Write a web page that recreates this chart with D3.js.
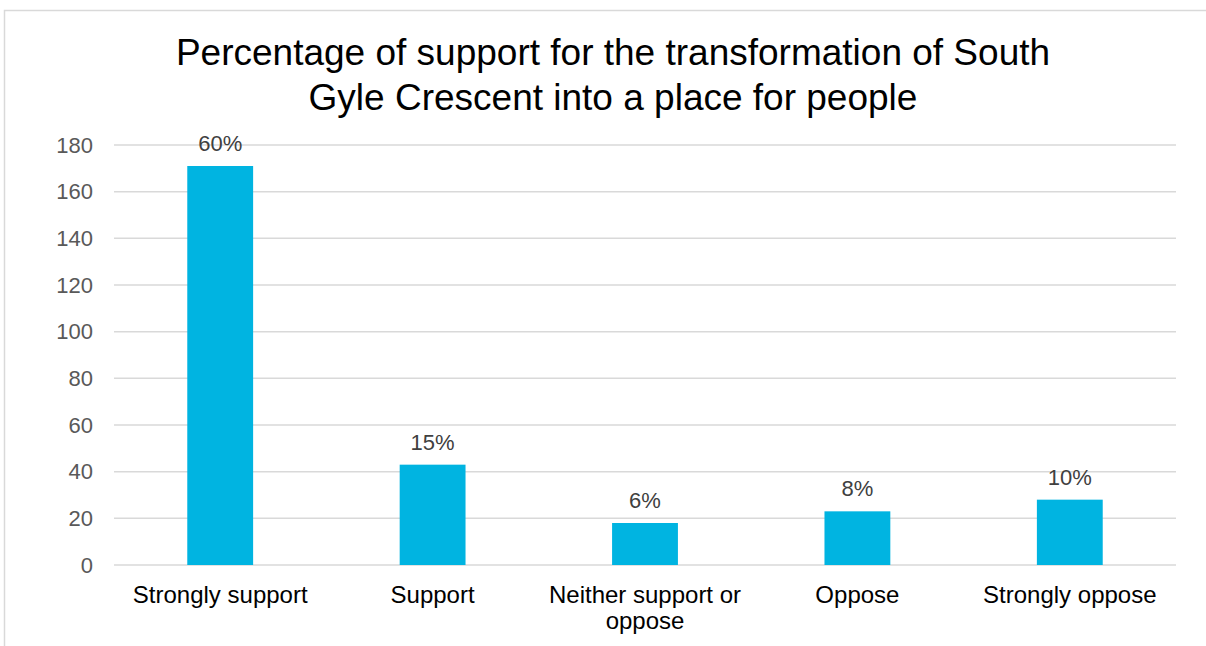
<!DOCTYPE html>
<html>
<head>
<meta charset="utf-8">
<script src="https://cdn.jsdelivr.net/npm/d3@7/dist/d3.min.js"></script>
<style>
  html, body { margin: 0; padding: 0; background: #fff; }
  svg { display: block; font-family: "Liberation Sans", Arial, sans-serif; }
</style>
</head>
<body>
<svg id="chart" width="1206" height="646"></svg>
<script>
const titleLines = ["Percentage of support for the transformation of South", "Gyle Crescent into a place for people"];
const categories = ["Strongly support", "Support", "Neither support or oppose", "Oppose", "Strongly oppose"];
const counts = [171, 43, 18, 23, 28];
const percentLabels = ["60%", "15%", "6%", "8%", "10%"];
const yTicks = [0, 20, 40, 60, 80, 100, 120, 140, 160, 180];

const svg = d3.select("#chart");
const W = 1206, H = 646;
const plot = { left: 114, right: 1176, top: 145, bottom: 565 };

// outer frame
svg.append("path")
  .attr("d", `M4.5,${H} L4.5,10.5 L${W},10.5`)
  .attr("fill", "none").attr("stroke", "#d9d9d9").attr("stroke-width", 1.5);

// title
const title = svg.append("text")
  .attr("text-anchor", "middle")
  .attr("font-size", 37)
  .attr("fill", "#000");
titleLines.forEach((t, i) => {
  title.append("tspan").attr("x", 613).attr("y", 65 + i * 45).text(t);
});

const x = d3.scaleBand().domain(categories).range([plot.left, plot.right]).padding(0);
const y = d3.scaleLinear().domain([0, 180]).range([plot.bottom, plot.top]);
const barW = x.bandwidth() * 0.31;

// gridlines
svg.append("g").selectAll("line").data(yTicks).join("line")
  .attr("x1", plot.left).attr("x2", plot.right)
  .attr("y1", d => y(d)).attr("y2", d => y(d))
  .attr("stroke", "#d9d9d9").attr("stroke-width", 1.5);

// y axis labels
const yAxis = d3.axisLeft(y).tickValues(yTicks).tickSize(0).tickPadding(21);
const yg = svg.append("g").attr("transform", `translate(${plot.left},0)`).call(yAxis);
yg.select(".domain").remove();
yg.selectAll("text").attr("font-size", 22).attr("fill", "#595959")
  .attr("font-family", "'Liberation Sans', Arial, sans-serif");

// bars
svg.append("g").selectAll("rect").data(categories).join("rect")
  .attr("x", (d) => x(d) + (x.bandwidth() - barW) / 2)
  .attr("width", barW)
  .attr("y", (d, i) => y(counts[i]))
  .attr("height", (d, i) => y(0) - y(counts[i]))
  .attr("fill", "#00B4E1");

// data labels
svg.append("g").selectAll("text").data(categories).join("text")
  .attr("x", d => x(d) + x.bandwidth() / 2)
  .attr("y", (d, i) => y(counts[i]) - 15)
  .attr("text-anchor", "middle")
  .attr("font-size", 22)
  .attr("fill", "#404040")
  .text((d, i) => percentLabels[i]);

// category labels (x axis)
const xAxis = d3.axisBottom(x).tickSize(0).tickPadding(0);
const xg = svg.append("g").attr("transform", `translate(0,${plot.bottom})`).call(xAxis);
xg.select(".domain").remove();
xg.selectAll("text")
  .attr("font-size", 24)
  .attr("fill", "#000")
  .attr("font-family", "'Liberation Sans', Arial, sans-serif")
  .attr("dy", null)
  .attr("y", 38)
  .each(function() {
    const el = d3.select(this);
    const words = el.text().split(" ");
    el.text(null);
    const maxW = 200;
    let line = [];
    let tspan = el.append("tspan").attr("x", 0).attr("dy", 0);
    words.forEach(w => {
      line.push(w);
      tspan.text(line.join(" "));
      if (tspan.node().getComputedTextLength() > maxW && line.length > 1) {
        line.pop();
        tspan.text(line.join(" "));
        line = [w];
        tspan = el.append("tspan").attr("x", 0).attr("dy", 26).text(w);
      }
    });
  });
</script>
</body>
</html>
